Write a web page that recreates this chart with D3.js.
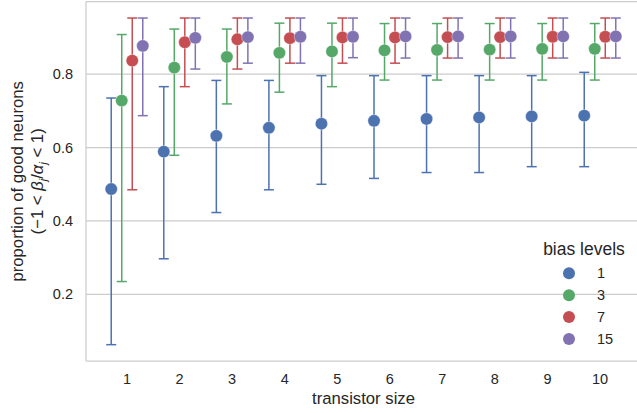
<!DOCTYPE html>
<html lang="en">
<head>
    <meta charset="UTF-8">
    <script src="https://d3js.org/d3.v7.min.js"></script>
    <style>
        body { margin: 0; background: #fff; }
        svg { font-family: "Liberation Sans", Arial, sans-serif; }
        .tick-label { font-size: 14.5px; fill: #262626; }
        .axis-label { font-size: 16.7px; fill: #262626; }
    </style>
    <title>Proportion of good neurons</title>
</head>
<body>
    <script>
        // Data
        const sizes = [1, 2, 3, 4, 5, 6, 7, 8, 9, 10];
        const biasLevels = ["1", "3", "7", "15"];
        const colors = ["#4C72B0", "#55A868", "#C44E52", "#8172B2"];

        const mean1  = [0.487, 0.589, 0.632, 0.654, 0.665, 0.673, 0.678, 0.682, 0.685, 0.687];
        const low1   = [0.063, 0.297, 0.423, 0.485, 0.500, 0.516, 0.532, 0.532, 0.548, 0.548];
        const high1  = [0.735, 0.766, 0.783, 0.783, 0.796, 0.796, 0.796, 0.796, 0.796, 0.805];

        const mean3  = [0.728, 0.818, 0.847, 0.858, 0.862, 0.865, 0.866, 0.867, 0.869, 0.869];
        const low3   = [0.235, 0.579, 0.719, 0.751, 0.766, 0.784, 0.784, 0.784, 0.784, 0.784];
        const high3  = [0.908, 0.923, 0.923, 0.939, 0.939, 0.938, 0.938, 0.938, 0.938, 0.938];

        const mean7  = [0.837, 0.887, 0.895, 0.898, 0.900, 0.900, 0.901, 0.901, 0.902, 0.902];
        const low7   = [0.485, 0.766, 0.814, 0.830, 0.830, 0.830, 0.844, 0.844, 0.844, 0.844];
        const high7  = [0.953, 0.953, 0.953, 0.953, 0.953, 0.953, 0.953, 0.953, 0.953, 0.953];

        const mean15 = [0.877, 0.899, 0.901, 0.902, 0.902, 0.903, 0.903, 0.903, 0.903, 0.903];
        const low15  = [0.687, 0.814, 0.830, 0.830, 0.845, 0.844, 0.844, 0.844, 0.844, 0.844];
        const high15 = [0.953, 0.953, 0.953, 0.953, 0.953, 0.953, 0.953, 0.953, 0.953, 0.953];

        const yTicks = [0.2, 0.4, 0.6, 0.8];

        const series = [
            { mean: mean1, low: low1, high: high1 },
            { mean: mean3, low: low3, high: high3 },
            { mean: mean7, low: low7, high: high7 },
            { mean: mean15, low: low15, high: high15 }
        ];

        const width = 637;
        const height = 413;
        const plot = { left: 86, right: 641, top: 1.7, bottom: 361 };
        const dodge = 0.6;

        const svg = d3.select("body").append("svg")
            .attr("width", width)
            .attr("height", height);

        // categorical positions 0..9, autoscaled with margins like matplotlib
        const x = d3.scaleLinear().domain([-0.78, 9.78]).range([plot.left, plot.right]);
        const y = d3.scaleLinear().domain([0.0185, 0.9975]).range([plot.bottom, plot.top]);
        const offset = i => -dodge / 2 + i * dodge / (biasLevels.length - 1);

        // grid
        svg.append("g").selectAll("line")
            .data(yTicks)
            .join("line")
            .attr("x1", plot.left).attr("x2", plot.right)
            .attr("y1", d => y(d)).attr("y2", d => y(d))
            .attr("stroke", "#cccccc").attr("stroke-width", 1.25);

        // spines
        const spines = svg.append("g").attr("stroke", "#cccccc").attr("stroke-width", 1.25);
        spines.append("line").attr("x1", plot.left).attr("x2", plot.left).attr("y1", plot.top).attr("y2", plot.bottom);
        spines.append("line").attr("x1", plot.left).attr("x2", plot.right).attr("y1", plot.bottom).attr("y2", plot.bottom);
        spines.append("line").attr("x1", plot.left).attr("x2", plot.right).attr("y1", plot.top).attr("y2", plot.top);

        // tick labels
        svg.append("g").selectAll("text")
            .data(yTicks)
            .join("text")
            .attr("class", "tick-label")
            .attr("x", plot.left - 13)
            .attr("y", d => y(d))
            .attr("dy", "0.35em")
            .attr("text-anchor", "end")
            .text(d => d3.format(".1f")(d));

        svg.append("g").selectAll("text")
            .data(sizes)
            .join("text")
            .attr("class", "tick-label")
            .attr("x", (d, i) => x(i))
            .attr("y", plot.bottom + 18)
            .attr("dy", "0.35em")
            .attr("text-anchor", "middle")
            .text(d => d);

        // axis labels
        svg.append("text")
            .attr("class", "axis-label")
            .attr("x", (plot.left + plot.right) / 2)
            .attr("y", 404)
            .attr("text-anchor", "middle")
            .text("transistor size");

        const ylab = svg.append("text")
            .attr("class", "axis-label")
            .attr("transform", `translate(0,${(plot.top + plot.bottom) / 2}) rotate(-90)`)
            .attr("text-anchor", "middle");
        ylab.append("tspan").attr("x", 0).attr("y", 23).text("proportion of good neurons");
        const l2 = ylab.append("tspan").attr("x", 0).attr("y", 43);
        l2.append("tspan").text("(\u22121 < ");
        l2.append("tspan").attr("font-style", "italic").text("\u03b2");
        l2.append("tspan").attr("font-style", "italic").attr("font-size", "11px").attr("dy", 4).text("j");
        l2.append("tspan").attr("dy", -4).text("/");
        l2.append("tspan").attr("font-style", "italic").text("\u03b1");
        l2.append("tspan").attr("font-style", "italic").attr("font-size", "11px").attr("dy", 4).text("j");
        l2.append("tspan").attr("dy", -4).text(" < 1)");

        // error bars and points per bias level
        const capHalf = 5;
        series.forEach((s, k) => {
            const g = svg.append("g").attr("stroke", colors[k]).attr("fill", colors[k]);
            const xs = i => x(i + offset(k));
            g.selectAll("line.bar")
                .data(sizes)
                .join("line")
                .attr("class", "bar")
                .attr("x1", (d, i) => xs(i)).attr("x2", (d, i) => xs(i))
                .attr("y1", (d, i) => y(s.low[i])).attr("y2", (d, i) => y(s.high[i]))
                .attr("stroke-width", 1.5);
            g.selectAll("line.caplo")
                .data(sizes)
                .join("line")
                .attr("class", "caplo")
                .attr("x1", (d, i) => xs(i) - capHalf).attr("x2", (d, i) => xs(i) + capHalf)
                .attr("y1", (d, i) => y(s.low[i])).attr("y2", (d, i) => y(s.low[i]))
                .attr("stroke-width", 1.5);
            g.selectAll("line.caphi")
                .data(sizes)
                .join("line")
                .attr("class", "caphi")
                .attr("x1", (d, i) => xs(i) - capHalf).attr("x2", (d, i) => xs(i) + capHalf)
                .attr("y1", (d, i) => y(s.high[i])).attr("y2", (d, i) => y(s.high[i]))
                .attr("stroke-width", 1.5);
            g.selectAll("circle")
                .data(sizes)
                .join("circle")
                .attr("cx", (d, i) => xs(i))
                .attr("cy", (d, i) => y(s.mean[i]))
                .attr("r", 6.2)
                .attr("stroke", "#fff")
                .attr("stroke-width", 0.4);
        });

        // legend
        const legend = svg.append("g");
        legend.append("text")
            .attr("x", 584)
            .attr("y", 249)
            .attr("dy", "0.35em")
            .attr("text-anchor", "middle")
            .attr("font-size", "17.5px")
            .attr("fill", "#262626")
            .text("bias levels");
        const item = legend.selectAll("g.item")
            .data(biasLevels)
            .join("g")
            .attr("class", "item")
            .attr("transform", (d, i) => `translate(569,${273.3 + i * 21.9})`);
        item.append("circle").attr("r", 6).attr("fill", (d, i) => colors[i]);
        item.append("text")
            .attr("class", "tick-label")
            .attr("x", 28)
            .attr("dy", "0.35em")
            .text(d => d);
    </script>
</body>
</html>
